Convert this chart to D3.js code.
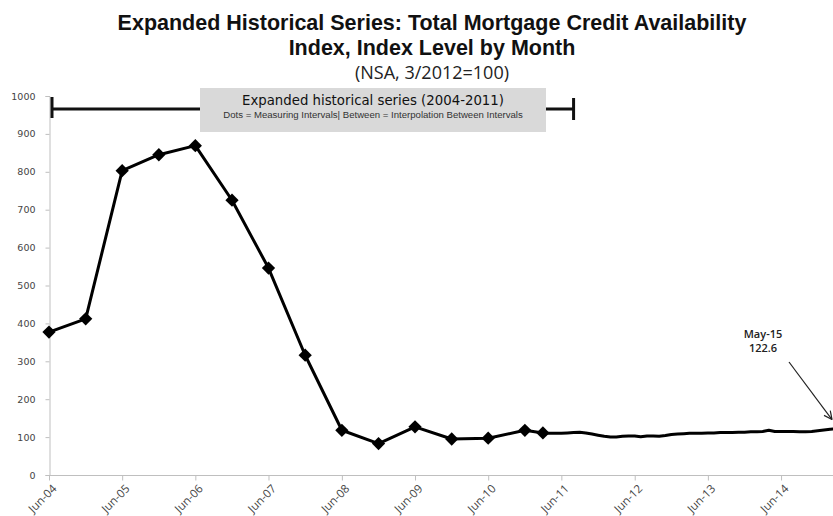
<!DOCTYPE html>
<html>
<head>
<meta charset="utf-8">
<script src="https://cdn.jsdelivr.net/npm/d3@7"></script>
<style>
  body { margin: 0; background: #fff; }
  svg { display: block; }
</style>
</head>
<body>
<script>
// SVG size
var svgWidth = 833;
var svgHeight = 516;

// Measured dots (expanded historical series, 2004-2011)
var dotDates = ["2004-06", "2004-12", "2005-06", "2005-12", "2006-06", "2006-12", "2007-06",
  "2007-12", "2008-06", "2008-12", "2009-06", "2009-12", "2010-06", "2010-12", "2011-03"];
var dotValues = [377, 412, 803, 845, 869, 725, 546, 316, 118, 83, 127, 95, 97, 118, 111];

// Monthly index after the last dot, Apr-11 .. May-15
var monthlyStart = "2011-04";
var monthlyValues = [
  110, 110, 110, 111, 112, 113, 111, 108, 105,
  102, 100, 100, 102, 103, 103, 101, 103, 103, 102, 104, 107,
  108, 109, 110, 110, 110, 111, 111, 112, 112, 112, 113, 113,
  114, 114, 115, 118, 115, 115, 115, 115, 114, 114, 115, 117,
  119, 121, 122, 122, 122.6
];

// Axis ticks
var yTicks = [0, 100, 200, 300, 400, 500, 600, 700, 800, 900, 1000];
var xTickDates = ["2004-06", "2005-06", "2006-06", "2007-06", "2008-06", "2009-06",
  "2010-06", "2011-06", "2012-06", "2013-06", "2014-06"];

// Texts
var titleLines = ["Expanded Historical Series: Total Mortgage Credit Availability",
  "Index, Index Level by Month"];
var subTitle = "(NSA, 3/2012=100)";
var boxTitle = "Expanded historical series (2004-2011)";
var boxNote = "Dots = Measuring Intervals| Between = Interpolation Between Intervals";
var rangeDates = ["2004-06", "2011-08"];
var callout = { date: "2015-05", value: 122.6, lines: ["May-15", "122.6"] };

var parseMonth = d3.timeParse("%Y-%m");
var fmt = d3.timeFormat("%b-%y");

// build the series
var series = dotDates.map((d, i) => ({ date: parseMonth(d), value: dotValues[i], dot: true }));
var m0 = parseMonth(monthlyStart);
monthlyValues.forEach(function(v, i) {
  series.push({ date: d3.timeMonth.offset(m0, i), value: v, dot: false });
});

var svg = d3.select("body")
  .append("svg")
  .attr("width", svgWidth)
  .attr("height", svgHeight);

// scales (plot runs past the right edge, picture is cropped there)
var xScale = d3.scaleTime()
  .domain([parseMonth("2004-06"), parseMonth("2015-05")])
  .range([49, 848]);

var yScale = d3.scaleLinear()
  .domain([0, 1000])
  .range([475, 96]);

// titles
var title = svg.append("g").attr("font-family", "'Liberation Sans', sans-serif")
  .attr("text-anchor", "middle").attr("fill", "#111");
title.selectAll("text.t")
  .data(titleLines)
  .enter().append("text")
  .attr("class", "t")
  .attr("x", 432)
  .attr("y", (d, i) => 30 + i * 25)
  .attr("font-size", "21.5px")
  .attr("font-weight", "bold")
  .text(d => d);
title.append("text")
  .attr("x", 432)
  .attr("y", 79)
  .attr("font-family", "'Open Sans', sans-serif")
  .attr("font-size", "18px")
  .attr("fill", "#222")
  .text(subTitle);

// axes
var leftAxis = d3.axisLeft(yScale).tickValues(yTicks).tickSize(4).tickPadding(10)
  .tickFormat(d3.format("d"));
var bottomAxis = d3.axisBottom(xScale)
  .tickValues(xTickDates.map(parseMonth))
  .tickFormat(fmt)
  .tickSize(5)
  .tickSizeOuter(0);

var yAxisG = svg.append("g")
  .attr("transform", "translate(49.5,0)")
  .call(leftAxis);
yAxisG.selectAll("path, line").attr("stroke", "#bfbfbf");
yAxisG.selectAll("text")
  .attr("font-family", "'DejaVu Sans', sans-serif")
  .attr("font-size", "9.5px")
  .attr("fill", "#444");

var xAxisG = svg.append("g")
  .attr("transform", "translate(0,475.5)")
  .call(bottomAxis);
xAxisG.select(".domain").attr("d", "M" + 49.5 + ",0H" + svgWidth);
xAxisG.selectAll("path, line").attr("stroke", "#bfbfbf");
xAxisG.selectAll("text")
  .attr("font-family", "'Open Sans', sans-serif")
  .attr("font-size", "11.5px")
  .attr("fill", "#444")
  .attr("text-anchor", "end")
  .attr("y", 0)
  .attr("dy", "0.35em")
  .attr("transform", "translate(5,11) rotate(-45)");

// range bar for the expanded series
var barY = 109;
var bx0 = xScale(parseMonth(rangeDates[0])) + 3;
var bx1 = xScale(parseMonth(rangeDates[1]));
var bar = svg.append("g").attr("stroke", "#111").attr("stroke-width", 3);
bar.append("line").attr("x1", bx0).attr("x2", bx1).attr("y1", barY).attr("y2", barY);
bar.append("line").attr("x1", bx0).attr("x2", bx0).attr("y1", barY - 12).attr("y2", barY + 9);
bar.append("line").attr("x1", bx1).attr("x2", bx1).attr("y1", barY - 11).attr("y2", barY + 11);

// label box
svg.append("rect")
  .attr("x", 200).attr("y", 88)
  .attr("width", 346).attr("height", 44)
  .attr("fill", "#d9d9d9");
svg.append("text")
  .attr("x", 373).attr("y", 105)
  .attr("text-anchor", "middle")
  .attr("font-family", "'DejaVu Sans', sans-serif")
  .attr("font-size", "13.3px")
  .attr("fill", "#111")
  .text(boxTitle);
svg.append("text")
  .attr("x", 373).attr("y", 117.5)
  .attr("text-anchor", "middle")
  .attr("font-family", "'Liberation Sans', sans-serif")
  .attr("font-size", "9.6px")
  .attr("fill", "#333")
  .text(boxNote);

// line
var line = d3.line()
  .x(d => xScale(d.date))
  .y(d => yScale(d.value));

svg.append("path")
  .datum(series)
  .attr("fill", "none")
  .attr("stroke", "#000")
  .attr("stroke-width", 3)
  .attr("stroke-linejoin", "round")
  .attr("d", line);

// diamonds at measuring intervals
var diamond = d3.symbol().type(d3.symbolSquare).size(88);
svg.selectAll("path.dot")
  .data(series.filter(d => d.dot))
  .enter().append("path")
  .attr("class", "dot")
  .attr("d", diamond)
  .attr("fill", "#000")
  .attr("transform", d => `translate(${xScale(d.date)},${yScale(d.value)}) rotate(45)`);

// callout for the last value
var cx = 763;
svg.append("g")
  .attr("font-family", "'Open Sans', sans-serif")
  .attr("font-size", "11px")
  .attr("font-weight", "600")
  .attr("text-anchor", "middle")
  .attr("fill", "#222")
  .selectAll("text")
  .data(callout.lines)
  .enter().append("text")
  .attr("x", cx)
  .attr("y", (d, i) => 337.5 + i * 14)
  .text(d => d);

var ax1 = svgWidth - 1;
var ay1 = yScale(callout.value) - 9;
var ax0 = 789, ay0 = 362;
var ang = Math.atan2(ay1 - ay0, ax1 - ax0);
var arrow = svg.append("g").attr("stroke", "#222").attr("stroke-width", 1.2).attr("fill", "none");
arrow.append("line").attr("x1", ax0).attr("y1", ay0).attr("x2", ax1).attr("y2", ay1);
[0.45, -0.45].forEach(function(a) {
  arrow.append("line")
    .attr("x1", ax1).attr("y1", ay1)
    .attr("x2", ax1 - 9 * Math.cos(ang + a))
    .attr("y2", ay1 - 9 * Math.sin(ang + a));
});
</script>
</body>
</html>
